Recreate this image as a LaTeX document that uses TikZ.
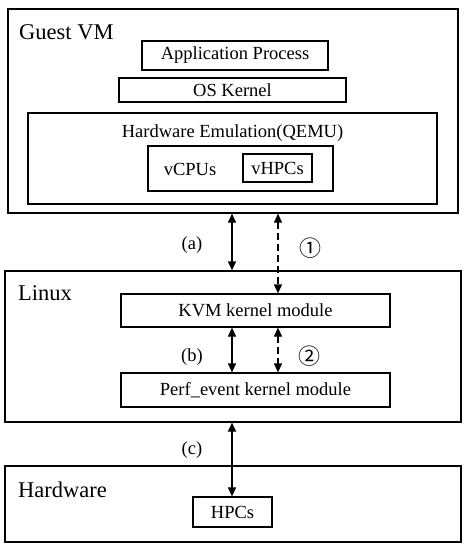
\documentclass[tikz,border=0pt]{standalone}
\usepackage{fontspec}
\setmainfont{Liberation Serif}
\newfontfamily\circfont{Noto Sans CJK SC}
\usepackage{tikz}
\usetikzlibrary{shapes,arrows.meta}
\tikzstyle{block} = [draw,rectangle,line width=1.2pt,fill=white,inner sep=0pt,font=\fontsize{18.5}{22}\selectfont]
\tikzstyle{layer} = [font=\fontsize{22.5}{26}\selectfont,inner sep=0pt,anchor=base west]
\tikzstyle{tag} = [font=\fontsize{18.5}{22}\selectfont,inner sep=0pt]
\tikzstyle{circTag} = [inner sep=0pt,font=\circfont\fontsize{22}{24}\selectfont]
\tikzstyle{arrowLine} = [draw,{Triangle[length=9pt,width=8pt]}-{Triangle[length=9pt,width=8pt]},line width=1.2pt]
\tikzstyle{dashLine} = [arrowLine,dash pattern=on 7pt off 4pt]

\begin{document}
\begin{tikzpicture}[x=1pt,y=-1pt]
		\useasboundingbox (0,0) rectangle (467,550);
		\node[block,minimum width=450pt,minimum height=204pt](guest) at (233,111){};
		\node[layer](guestLabel) at (19,39){Guest VM};
		\node[block,minimum width=186pt,minimum height=29pt](app) at (235,55.5){Application Process};
		\node[block,minimum width=227pt,minimum height=24pt](osKernel) at (232.5,90){OS Kernel};
		\node[block,minimum width=409pt,minimum height=91pt](qemu) at (232.5,158.5){};
		\node[tag,anchor=base](qemuLabel) at (232.5,137){Hardware Emulation(QEMU)};
		\node[block,minimum width=185pt,minimum height=45pt](vcpuBox) at (240.5,168.5){};
		\node[tag,anchor=base](vcpus) at (190,175){vCPUs};
		\node[block,minimum width=69pt,minimum height=28pt](vhpcs) at (277.5,168){vHPCs};
		\node[block,minimum width=456pt,minimum height=151pt](linux) at (233,346.5){};
		\node[layer](linuxLabel) at (18,300){Linux};
		\node[block,minimum width=269pt,minimum height=33pt](kvm) at (255.5,310.5){KVM kernel module};
		\node[block,minimum width=269pt,minimum height=34pt](perf) at (255.5,390){Perf\_event kernel module};
		\node[block,minimum width=456pt,minimum height=76pt](hardware) at (233,504){};
		\node[layer](hardwareLabel) at (18,497){Hardware};
		\node[block,minimum width=79pt,minimum height=30pt](hpcs) at (232.5,512){HPCs};
		%labels
		\node[tag](a) at (192,245){(a)};
		\node[tag](b) at (192,357){(b)};
		\node[tag](c) at (192,450){(c)};
		\node[circTag](one) at (310,248){①};
		\node[circTag](two) at (309,356){②};
		%arrows
		\coordinate (solidX) at (232,0);
		\coordinate (dashX) at (278,0);
		\path[arrowLine](guest.south -| solidX)--(linux.north -| solidX);
		\path[dashLine](guest.south -| dashX)--(kvm.north -| dashX);
		\path[arrowLine](kvm.south -| solidX)--(perf.north -| solidX);
		\path[dashLine](kvm.south -| dashX)--(perf.north -| dashX);
		\path[arrowLine](linux.south -| solidX)--(hpcs.north -| solidX);
	\end{tikzpicture}
\end{document}
